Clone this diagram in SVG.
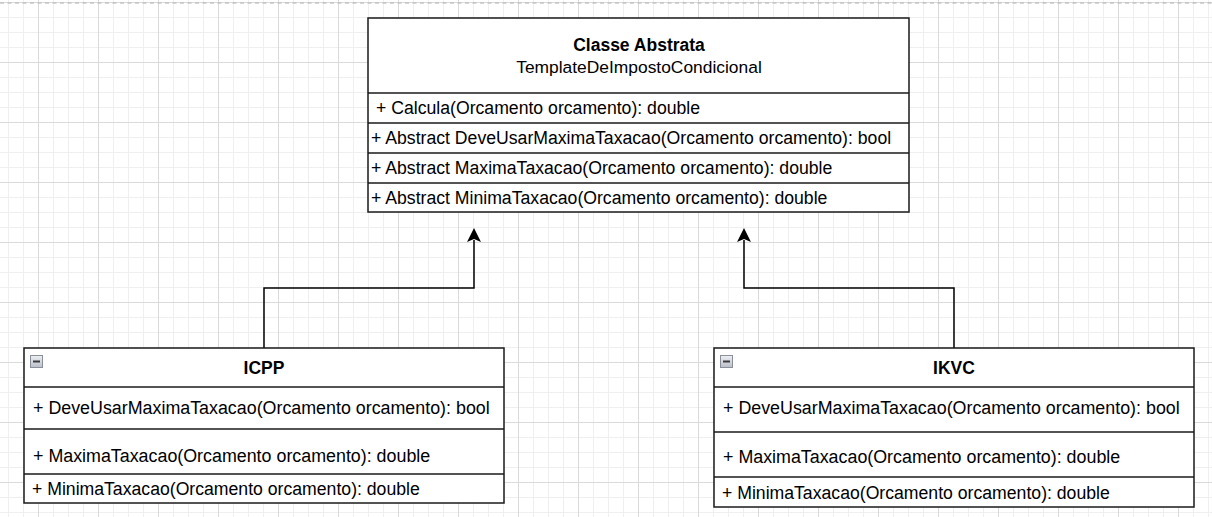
<svg xmlns="http://www.w3.org/2000/svg" width="1212" height="517" viewBox="0 0 1212 517">
<style>
.box{fill:#ffffff;stroke:#1a1a1a;stroke-width:1.5}
.sep{stroke:#1a1a1a;stroke-width:1.5}
.t{font-family:"Liberation Sans",Arial,sans-serif;fill:#000}
.row{font-size:17.65px}
.row18{font-size:17.85px}
.title{font-size:17.5px;font-weight:bold;text-anchor:middle}
.sub{font-size:17.4px;text-anchor:middle}
.conn{fill:none;stroke:#000;stroke-width:1.5}
.icon{fill:url(#ig);stroke:#8a8f99;stroke-width:1}
</style>
<defs>
<pattern id="minor" patternUnits="userSpaceOnUse" x="8" y="2" width="15" height="15">
<rect x="0" y="0" width="1" height="15" fill="#efefef"/>
<rect x="0" y="0" width="15" height="1" fill="#efefef"/>
</pattern>
<pattern id="major" patternUnits="userSpaceOnUse" x="38" y="2" width="60" height="60">
<rect x="0" y="0" width="1" height="60" fill="#dadada"/>
<rect x="0" y="0" width="60" height="1" fill="#dadada"/>
</pattern>
<linearGradient id="ig" x1="0" y1="0" x2="0" y2="1">
<stop offset="0" stop-color="#eef0f4"/>
<stop offset="1" stop-color="#b9bec8"/>
</linearGradient>
</defs>
<rect width="1212" height="517" fill="#ffffff"/>
<rect width="1212" height="517" fill="url(#minor)"/>
<rect width="1212" height="517" fill="url(#major)"/>
<line x1="0" y1="3" x2="1212" y2="3" stroke="#b0b0b0" stroke-width="1" stroke-dasharray="4 3.5"/>

<g id="connectors">
<path class="conn" d="M264 348 V288 H474 V240"/>
<polygon points="474,228 481,242 474,239 467,242" fill="#000"/>
<path class="conn" d="M954 348 V288 H744 V240"/>
<polygon points="744,228 751,242 744,239 737,242" fill="#000"/>
</g>

<g id="template">
<rect class="box" x="368" y="18" width="541" height="194"/>
<line class="sep" x1="368" y1="93" x2="909" y2="93"/>
<line class="sep" x1="368" y1="123" x2="909" y2="123"/>
<line class="sep" x1="368" y1="153" x2="909" y2="153"/>
<line class="sep" x1="368" y1="183" x2="909" y2="183"/>
<text class="t title" x="639" y="51">Classe Abstrata</text>
<text class="t sub" x="639" y="73">TemplateDeImpostoCondicional</text>
<text class="t row" x="376" y="114">+ Calcula(Orcamento orcamento): double</text>
<text class="t row" x="371" y="144">+ Abstract DeveUsarMaximaTaxacao(Orcamento orcamento): bool</text>
<text class="t row" x="371" y="174">+ Abstract MaximaTaxacao(Orcamento orcamento): double</text>
<text class="t row" x="371" y="204">+ Abstract MinimaTaxacao(Orcamento orcamento): double</text>
</g>

<g id="icpp">
<rect class="box" x="24" y="348" width="480" height="155"/>
<line class="sep" x1="24" y1="387" x2="504" y2="387"/>
<line class="sep" x1="24" y1="429" x2="504" y2="429"/>
<line class="sep" x1="24" y1="474" x2="504" y2="474"/>
<rect class="icon" x="30.5" y="355.5" width="12" height="12"/>
<rect x="33" y="360.5" width="7" height="2" fill="#3a3a3a"/>
<text class="t title" x="264" y="374">ICPP</text>
<text class="t row18" x="33" y="414">+ DeveUsarMaximaTaxacao(Orcamento orcamento): bool</text>
<text class="t row18" x="33" y="462">+ MaximaTaxacao(Orcamento orcamento): double</text>
<text class="t row" x="32" y="495">+ MinimaTaxacao(Orcamento orcamento): double</text>
</g>

<g id="ikvc">
<rect class="box" x="714" y="348" width="480" height="159"/>
<line class="sep" x1="714" y1="387" x2="1194" y2="387"/>
<line class="sep" x1="714" y1="432" x2="1194" y2="432"/>
<line class="sep" x1="714" y1="477" x2="1194" y2="477"/>
<rect class="icon" x="720.5" y="355.5" width="12" height="12"/>
<rect x="723" y="360.5" width="7" height="2" fill="#3a3a3a"/>
<text class="t title" x="954" y="374">IKVC</text>
<text class="t row18" x="723" y="414">+ DeveUsarMaximaTaxacao(Orcamento orcamento): bool</text>
<text class="t row18" x="723" y="463">+ MaximaTaxacao(Orcamento orcamento): double</text>
<text class="t row" x="722" y="499">+ MinimaTaxacao(Orcamento orcamento): double</text>
</g>
</svg>
